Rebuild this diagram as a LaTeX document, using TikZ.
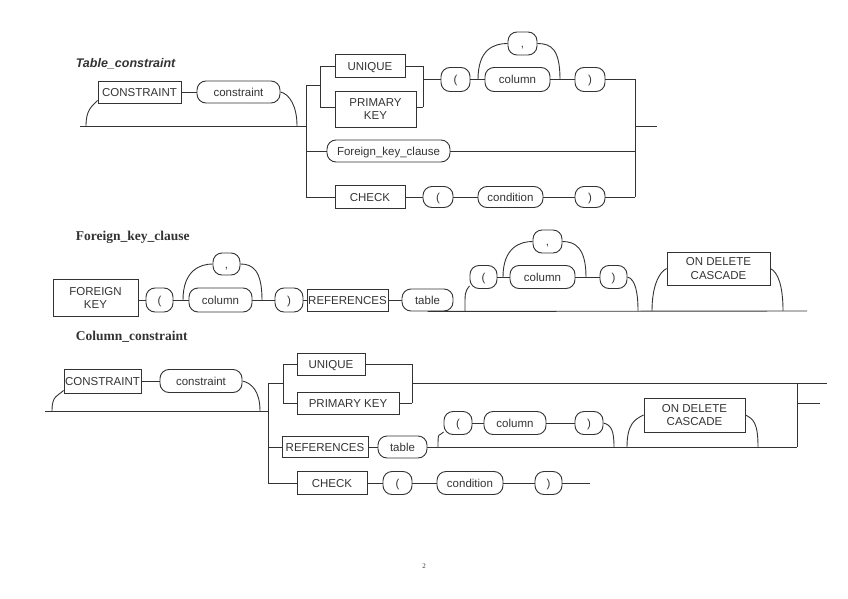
\documentclass[tikz,border=0pt]{standalone}
\usepackage{fontspec}
\setmainfont{Liberation Serif}
\newfontfamily\arialf{Liberation Sans}
\newcommand\lbl{\arialf\fontsize{11.5}{13.5}\selectfont}
\newcommand\ttlA{\arialf\bfseries\itshape\fontsize{12.5}{14}\selectfont}
\newcommand\ttlB{\bfseries\fontsize{13.5}{15}\selectfont}
\newcommand\bx[6]{\node[#1, minimum width=#4pt, minimum height=#5pt] (#2) at (#3) {#6};}
\begin{document}
\begin{tikzpicture}[x=1pt,y=-1pt,line width=0.9pt,color=black!80,
  term/.style={draw, rectangle, inner sep=0pt, font=\lbl, text height=8.2pt, text depth=0pt},
  mterm/.style={draw, rectangle, inner sep=0pt, font=\lbl, align=center},
  nt/.style={draw, rectangle, rounded corners=9pt, inner sep=0pt, font=\lbl, text height=8.2pt, text depth=0pt}]
\useasboundingbox (0,0) rectangle (848,599);
% ---------------- Table_constraint
\node[anchor=base west, font=\ttlA] (t1) at (72,68) {Table\_constraint};
\bx{term}{c1}{139.5,92}{83}{22}{CONSTRAINT}
\bx{nt}{c2}{238.5,92}{83}{22}{constraint}
\draw (c1) -- (c2);
\coordinate (s1) at (80,126);
\coordinate (j1) at (306,126);
\coordinate (b1) at (86,126);
\coordinate (b2) at (297,126);
\draw (s1) -- (j1);
\draw (b1) .. controls +(0,-16) and +(-6,6) .. ([yshift=3pt]c1.south west);
\draw (c2.east) .. controls +(9,2) and +(0,-20) .. (b2);
\coordinate (v1t) at (306,85);
\coordinate (v1b) at (306,197);
\draw (v1t) -- (v1b);
\coordinate (g1) at (320,85);
\draw (v1t) -- (g1);
\coordinate (g1t) at (320,66);
\coordinate (g1b) at (320,107);
\draw (g1t) -- (g1b);
\bx{term}{u1}{370,66}{70}{23}{UNIQUE}
\bx{mterm}{pk1}{375.5,109}{81}{36}{PRIMARY\\KEY}
\draw (g1t) -- (u1);
\draw (g1b) -- (g1b -| pk1.west);
\coordinate (h1t) at (423,66);
\coordinate (h1b) at (423,107);
\draw (h1t) -- (h1b);
\draw (u1) -- (h1t);
\draw (g1b -| pk1.east) -- (h1b);
\coordinate (h1) at (423,79.5);
\bx{nt}{lp1}{455.5,79.5}{29}{24}{(}
\draw (h1) -- (lp1);
\bx{nt}{col1}{517.5,79.5}{65}{24}{column}
\bx{nt}{cm1}{522.5,43.5}{29}{23}{,}
\bx{nt}{rp1}{590,79.5}{30}{24}{)}
\coordinate (jA) at (478,79.5);
\coordinate (jB) at (560,79.5);
\draw (lp1) -- (col1);
\draw (col1) -- (rp1);
\draw (jA) .. controls +(0,-30) and +(-14,0) .. (cm1.west);
\draw (cm1.east) .. controls +(14,0) and +(0,-30) .. (jB);
\coordinate (r1t) at (635,79.5);
\coordinate (r1b) at (635,197);
\draw (rp1) -- (r1t) -- (r1b);
\coordinate (e1) at (657,126);
\draw (e1 -| r1t) -- (e1);
\bx{nt}{fk1}{388.5,151}{123}{22}{Foreign\_key\_clause}
\draw (fk1 -| v1t) -- (fk1);
\draw (fk1) -- (fk1 -| r1t);
\bx{term}{ck1}{370,197}{70}{23}{CHECK}
\bx{nt}{lp2}{438,197}{30}{21}{(}
\bx{nt}{cond1}{510.5,197}{65}{21}{condition}
\bx{nt}{rp2}{590,197}{30}{21}{)}
\draw (ck1 -| v1t) -- (ck1) -- (lp2) -- (cond1) -- (rp2) -- (rp2 -| r1t);
% ---------------- Foreign_key_clause
\node[anchor=base west, font=\ttlB] (t2) at (72,240) {Foreign\_key\_clause};
\bx{mterm}{fk2}{95.5,298}{85}{37}{FOREIGN\\KEY}
\bx{nt}{lp3}{159.5,300}{27}{24}{(}
\draw (lp3.west -| fk2.east) -- (lp3);
\bx{nt}{col2}{220.5,300}{63}{24}{column}
\bx{nt}{cm2}{226.5,264}{27}{22}{,}
\bx{nt}{rp3}{289,300}{28}{24}{)}
\bx{term}{ref1}{347.5,300}{81}{22}{REFERENCES}
\bx{nt}{tb1}{427.5,300}{51}{22}{table}
\draw (lp3) -- (col2) -- (rp3) -- (ref1) -- (tb1);
\coordinate (jC) at (183,300);
\coordinate (jD) at (262,300);
\draw (jC) .. controls +(0,-30) and +(-12,0) .. (cm2.west);
\draw (cm2.east) .. controls +(12,0) and +(0,-30) .. (jD);
\coordinate (e2) at (807,311);
\draw (tb1.south) -- (e2);
\bx{nt}{lp4}{483.5,277}{27}{23}{(}
\bx{nt}{col3}{542.5,277}{65}{23}{column}
\bx{nt}{cm3}{547.5,241.5}{29}{23}{,}
\bx{nt}{rp4}{613.5,277}{27}{23}{)}
\draw (lp4) -- (col3) -- (rp4);
\coordinate (jE) at (503,277);
\coordinate (jF) at (586,277);
\draw (jE) .. controls +(0,-30) and +(-12,0) .. (cm3.west);
\draw (cm3.east) .. controls +(12,0) and +(0,-30) .. (jF);
\coordinate (b3) at (465,311);
\coordinate (b4) at (638,311);
\draw (b3) .. controls +(0,-18) and +(-5,6) .. ([yshift=3pt]lp4.south west);
\draw (rp4.east) .. controls +(8,2) and +(0,-18) .. (b4);
\bx{mterm}{od1}{718.5,268.5}{103}{33}{ON DELETE\\CASCADE}
\coordinate (b5) at (652,311);
\coordinate (b6) at (783,311);
\draw (b5) .. controls +(0,-24) and +(-8,4) .. (od1.west);
\draw (od1.east) .. controls +(8,4) and +(0,-24) .. (b6);
% ---------------- Column_constraint
\node[anchor=base west, font=\ttlB] (t3) at (72,340) {Column\_constraint};
\bx{term}{c3}{102.5,381}{77}{24}{CONSTRAINT}
\bx{nt}{c4}{201,381}{82}{23}{constraint}
\draw (c3) -- (c4);
\coordinate (s3) at (45,411);
\coordinate (j3) at (268,411);
\draw (s3) -- (j3);
\coordinate (b7) at (52,411);
\coordinate (b8) at (260,411);
\draw (b7) .. controls +(0,-16) and +(-6,6) .. ([yshift=3pt]c3.south west);
\draw (c4.east) .. controls +(9,2) and +(0,-20) .. (b8);
\coordinate (v3t) at (268,383);
\coordinate (v3b) at (268,483);
\draw (v3t) -- (v3b);
\coordinate (g3) at (283,383);
\draw (v3t) -- (g3);
\coordinate (g3t) at (283,364);
\coordinate (g3b) at (283,403);
\draw (g3t) -- (g3b);
\bx{term}{u2}{331,364}{68}{22}{UNIQUE}
\bx{term}{pk2}{348,403}{102}{22}{PRIMARY KEY}
\draw (g3t) -- (u2);
\draw (g3b) -- (pk2);
\coordinate (h3t) at (412,364);
\coordinate (h3b) at (412,403);
\draw (h3t) -- (h3b);
\draw (u2) -- (h3t);
\draw (pk2) -- (h3b);
\coordinate (h3) at (412,383);
\coordinate (e3) at (827,383);
\draw (h3) -- (e3);
\coordinate (r3t) at (797,383);
\coordinate (r3b) at (797,447);
\draw (r3t) -- (r3b);
\coordinate (e4) at (820,403);
\draw (e4 -| r3t) -- (e4);
\bx{term}{ref2}{325,447}{86}{21}{REFERENCES}
\bx{nt}{tb2}{402.5,447}{49}{22}{table}
\draw (ref2 -| v3t) -- (ref2) -- (tb2) -- (tb2 -| r3t);
\bx{nt}{lp5}{458,423}{28}{23}{(}
\bx{nt}{col4}{515,423}{62}{23}{column}
\bx{nt}{rp5}{589,423}{28}{23}{)}
\draw (lp5) -- (col4) -- (rp5);
\coordinate (b9) at (438,447);
\coordinate (b10) at (614,447);
\draw (b9) .. controls +(0,-16) and +(-5,5) .. ([yshift=3pt]lp5.south west);
\draw (rp5.east) .. controls +(8,2) and +(0,-16) .. (b10);
\bx{mterm}{od2}{694.5,415}{101}{34}{ON DELETE\\CASCADE}
\coordinate (b11) at (627,447);
\coordinate (b12) at (758,447);
\draw (b11) .. controls +(0,-24) and +(-8,4) .. (od2.west);
\draw (od2.east) .. controls +(8,4) and +(0,-24) .. (b12);
\bx{term}{ck2}{332,483}{70}{23}{CHECK}
\bx{nt}{lp6}{397.5,483}{29}{23}{(}
\bx{nt}{cond2}{470,483}{66}{23}{condition}
\bx{nt}{rp6}{548.5,483}{27}{23}{)}
\coordinate (e5) at (590,483);
\draw (ck2 -| v3t) -- (ck2) -- (lp6) -- (cond2) -- (rp6) -- (e5);
% page number
\node[font=\fontsize{7}{8}\selectfont] (pg) at (424,566) {2};
\end{tikzpicture}
\end{document}
